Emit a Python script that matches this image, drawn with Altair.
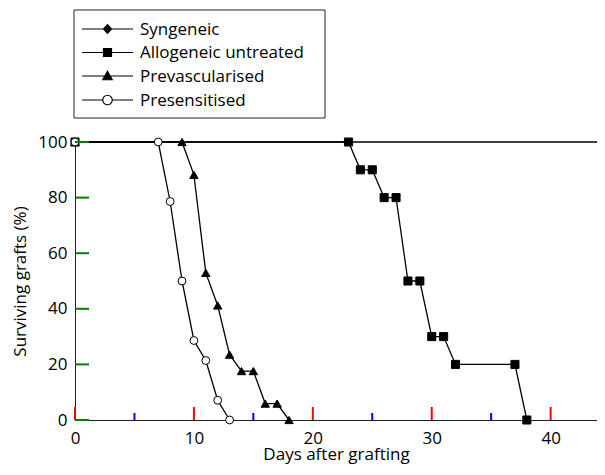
import altair as alt
import pandas as pd

# ---- data ----
series_names = ["Syngeneic", "Allogeneic untreated", "Prevascularised", "Presensitised"]

syn_days = [0, 45]
syn_surv = [100, 100]
allo_days = [0, 23, 24, 25, 26, 27, 28, 29, 30, 31, 32, 37, 38]
allo_surv = [100, 100, 90, 90, 80, 80, 50, 50, 30, 30, 20, 20, 0]
prev_days = [0, 9, 10, 11, 12, 13, 14, 15, 16, 17, 18]
prev_surv = [100, 100, 88.2, 52.9, 41.2, 23.5, 17.6, 17.6, 5.9, 5.9, 0]
pres_days = [0, 7, 8, 9, 10, 11, 12, 13]
pres_surv = [100, 100, 78.6, 50, 28.6, 21.4, 7.1, 0]

x_major = [0, 10, 20, 30, 40]
x_minor = [5, 15, 25, 35]
y_major = [0, 20, 40, 60, 80, 100]

X_MAX = 43.9
FONT = "Open Sans"
FS = 17
W, H = 522, 278

all_days = [syn_days, allo_days, prev_days, pres_days]
all_surv = [syn_surv, allo_surv, prev_surv, pres_surv]

rows = []
for name, dd, ss in zip(series_names, all_days, all_surv):
    for d, s in zip(dd, ss):
        rows.append({"series": name, "day": d, "surv": s})
df = pd.DataFrame(rows)

xscale = alt.Scale(domain=[0, X_MAX], clamp=True, nice=False, zero=False)
yscale = alt.Scale(domain=[0, 100], nice=False)

x_enc = alt.X("day:Q", scale=xscale,
              axis=alt.Axis(values=x_major, ticks=False, tickSize=0, grid=False,
                            domainColor="#222", labelFontSize=FS, labelFont=FONT,
                            labelColor="black", labelPadding=10, labelFlush=False,
                            title="Days after grafting", titleFont=FONT,
                            titleFontSize=FS, titleFontWeight="normal",
                            titleColor="black", titlePadding=0))
y_enc = alt.Y("surv:Q", scale=yscale,
              axis=alt.Axis(values=y_major, ticks=False, tickSize=0, grid=False,
                            domainColor="#222", labelFontSize=FS, labelFont=FONT,
                            labelColor="black", labelPadding=8, labelFlush=False,
                            title="Surviving grafts (%)", titleFont=FONT,
                            titleFontSize=FS, titleFontWeight="normal",
                            titleColor="black", titlePadding=8))

fill_range = ["black", "black", "black", "white"]
plot_shapes = ["diamond", "square", "triangle-up", "circle"]
plot_sizes = [60, 65, 70, 62]
legend_shapes = [
    "M-5.1,0H5.1M0,-0.85L0.8,0L0,0.85L-0.8,0Z",
    "M-5.1,0H5.1M-0.8,-0.8H0.8V0.8H-0.8Z",
    "M-5.1,0H5.1M0,-0.95L0.95,0.75H-0.95Z",
    "M-5.1,0H-0.95M0.95,0H5.1M0.95,0A0.95,0.95,0,1,1,-0.95,0A0.95,0.95,0,1,1,0.95,0Z",
]

lines = alt.Chart(df).mark_line(color="black", strokeWidth=1.3).encode(
    x=x_enc, y=y_enc, detail="series:N")

point_layers = []
for i, (name, shp, fil, sz) in enumerate(zip(series_names, plot_shapes, fill_range, plot_sizes)):
    dd, ss = all_days[i], all_surv[i]
    if i == 0:
        dd, ss = dd[:1], ss[:1]
    pdf = pd.DataFrame({"day": dd, "surv": ss})
    point_layers.append(
        alt.Chart(pdf).mark_point(shape=shp, filled=True, fill=fil, stroke="black",
                                  strokeWidth=1, opacity=1, size=sz).encode(x=x_enc, y=y_enc)
    )

# inward axis ticks
xt_major = alt.Chart(pd.DataFrame({"day": x_major})).mark_rule(color="red", strokeWidth=2).encode(
    x=alt.X("day:Q", scale=xscale), y=alt.value(H), y2=alt.value(H - 13))
xt_minor = alt.Chart(pd.DataFrame({"day": x_minor})).mark_rule(color="blue", strokeWidth=2).encode(
    x=alt.X("day:Q", scale=xscale), y=alt.value(H), y2=alt.value(H - 7))
yt_major = alt.Chart(pd.DataFrame({"surv": y_major})).mark_rule(color="green", strokeWidth=2).encode(
    y=alt.Y("surv:Q", scale=yscale), x=alt.value(0), x2=alt.value(14))

LEG_X0, LEG_X1, LEG_Y0, LEG_Y1 = -1, 250, -132, -24
LEG_ROWS = [-113, -89.5, -66, -42]
LEG_SYM_X, LEG_TXT_X = 32.5, 65

legend_layers = [
    alt.Chart(pd.DataFrame({"series": ["legend"]})).mark_rect(
        fill="white", stroke="#222", strokeWidth=1).encode(
        x=alt.value(LEG_X0), x2=alt.value(LEG_X1), y=alt.value(LEG_Y0), y2=alt.value(LEG_Y1))
]
for name, shp, fil, yy in zip(series_names, legend_shapes, fill_range, LEG_ROWS):
    one = pd.DataFrame({"series": [name]})
    legend_layers.append(
        alt.Chart(one).mark_point(shape=shp, filled=True, fill=fil, stroke="black",
                                  strokeWidth=1.2, opacity=1, size=100).encode(
            x=alt.value(LEG_SYM_X), y=alt.value(yy)))
    legend_layers.append(
        alt.Chart(one).mark_text(align="left", baseline="middle", font=FONT,
                                 fontSize=FS, color="black").encode(
            x=alt.value(LEG_TXT_X), y=alt.value(yy + 0.5), text="series:N"))

chart = alt.layer(lines, *point_layers, xt_major, xt_minor, yt_major, *legend_layers).properties(
    width=W, height=H,
    autosize=alt.AutoSizeParams(type="none"),
    padding={"left": 67, "top": 134, "right": 0, "bottom": 47},
).configure_view(stroke=None)

chart.save("out.html", embed_options={"renderer": "svg", "actions": False})
